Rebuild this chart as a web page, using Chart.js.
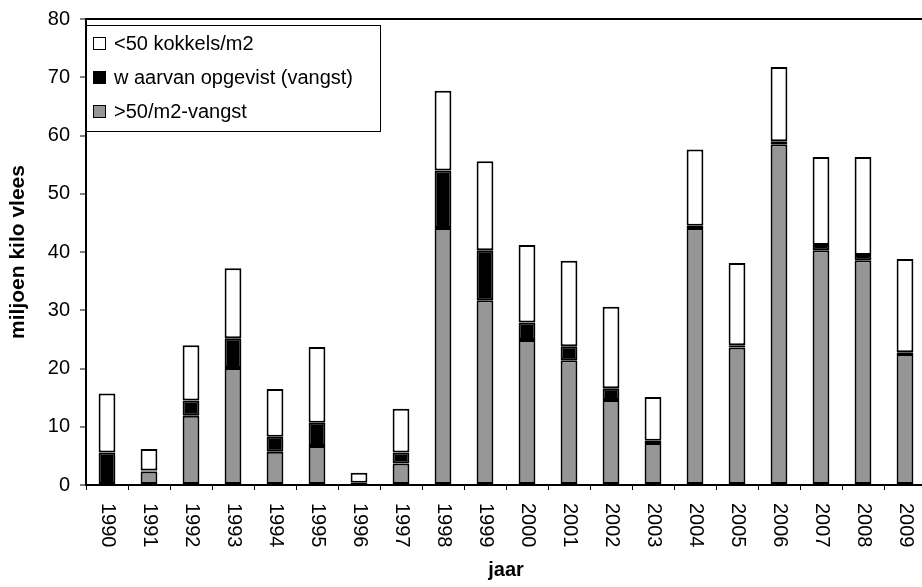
<!DOCTYPE html>
<html>
<head>
<meta charset="utf-8">
<script src="https://cdn.jsdelivr.net/npm/chart.js@4.4.1/dist/chart.umd.min.js"></script>
<style>
  html, body { margin: 0; padding: 0; background: #fff; overflow: hidden; }
  #wrap { width: 930px; height: 587px; }
</style>
</head>
<body>
<div id="wrap"><canvas id="kokkels" width="930" height="587"></canvas></div>
<script>
// jaren en bestanden (miljoen kilo vlees)
const years = ["1990", "1991", "1992", "1993", "1994", "1995", "1996", "1997", "1998", "1999",
  "2000", "2001", "2002", "2003", "2004", "2005", "2006", "2007", "2008", "2009"];
const boven50 = [0, 2.3, 11.9, 20.1, 5.7, 6.7, 0, 3.7, 44.1, 31.7,
  24.9, 21.4, 14.6, 7.2, 44.1, 23.6, 58.5, 40.3, 38.6, 22.5];
const opgevist = [5.6, 0.2, 2.6, 5.1, 2.6, 4.0, 0.4, 1.9, 9.9, 8.6,
  3.0, 2.4, 2.0, 0.4, 0.4, 0.4, 0.5, 0.9, 0.9, 0.3];
const onder50 = [10.1, 3.7, 9.5, 12.0, 8.2, 13.0, 1.7, 7.5, 13.7, 15.3,
  13.3, 14.7, 14.0, 7.5, 13.1, 14.1, 12.75, 15.1, 16.8, 16.0];
const yTicks = [0, 10, 20, 30, 40, 50, 60, 70, 80];

const FONT = 'Arial, "Liberation Sans", sans-serif';

// x labels read top-to-bottom, which Chart.js can't rotate that way
const yearLabels = {
  id: "yearLabels",
  afterDraw(chart) {
    const ctx = chart.ctx;
    const x = chart.scales.x;
    ctx.save();
    ctx.fillStyle = "#000";
    ctx.font = "20px " + FONT;
    ctx.textAlign = "left";
    ctx.textBaseline = "middle";
    chart.data.labels.forEach((lab, i) => {
      ctx.save();
      ctx.translate(x.getPixelForTick(i) + 1, x.top + 18);
      ctx.rotate(Math.PI / 2);
      ctx.fillText(lab, 0, 0);
      ctx.restore();
    });
    ctx.restore();
  }
};

// legend box inside the plot, top-left
const boxLegend = {
  id: "boxLegend",
  afterDraw(chart) {
    const ctx = chart.ctx;
    const left = chart.chartArea.left;
    const top = 25;
    ctx.save();
    ctx.fillStyle = "#fff";
    ctx.strokeStyle = "#000";
    ctx.lineWidth = 1;
    ctx.fillRect(left, top, 294, 106);
    ctx.strokeRect(left + 0.5, top + 0.5, 294, 106);
    ctx.font = "20px " + FONT;
    ctx.textBaseline = "middle";
    const items = chart.data.datasets.slice().reverse();
    items.forEach((ds, i) => {
      const cy = top + 18 + i * 34;
      ctx.fillStyle = ds.backgroundColor;
      ctx.fillRect(left + 7.5, cy - 5.5, 12, 12);
      ctx.strokeStyle = "#000";
      ctx.strokeRect(left + 7.5, cy - 5.5, 12, 12);
      ctx.fillStyle = "#000";
      ctx.fillText(ds.label, left + 28, cy + 1);
    });
    ctx.restore();
  }
};

new Chart(document.getElementById("kokkels"), {
  type: "bar",
  data: {
    labels: years,
    datasets: [
      { label: ">50/m2-vangst", data: boven50, backgroundColor: "#969696" },
      { label: "w aarvan opgevist (vangst)", data: opgevist, backgroundColor: "#000000" },
      { label: "<50 kokkels/m2", data: onder50, backgroundColor: "#ffffff" },
    ].map((d) => Object.assign(d, {
      borderColor: "#000",
      borderWidth: 2,
      borderSkipped: false,
      barPercentage: 0.4,
      categoryPercentage: 1,
    })),
  },
  options: {
    responsive: false,
    animation: false,
    layout: { padding: { top: 19, right: 4, bottom: 0, left: 0 } },
    plugins: { legend: { display: false }, tooltip: { enabled: false } },
    scales: {
      x: {
        stacked: true,
        afterFit(s) { s.height = 102; },
        ticks: { display: false },
        grid: { drawOnChartArea: false, offset: true, tickLength: 5, tickColor: "#000", lineWidth: 1 },
        border: { display: true, color: "#000", width: 2 },
        title: { display: true, text: "jaar", color: "#000", padding: { top: 0, bottom: 5 },
          font: { family: FONT, size: 20, weight: "bold" } },
      },
      y: {
        stacked: true,
        min: 0,
        max: 80,
        afterBuildTicks(s) { s.ticks = yTicks.map((v) => ({ value: v })); },
        afterFit(s) { s.width = 86; s.paddingTop = 0; s.paddingBottom = 0; },
        ticks: { color: "#000", padding: 10, font: { family: FONT, size: 20 } },
        grid: {
          color: (c) => (c.tick && c.tick.value === 80 ? "#000" : "rgba(0,0,0,0)"),
          lineWidth: 2,
          tickLength: 6,
          tickColor: "#000",
          tickWidth: 1,
        },
        border: { display: true, color: "#000", width: 2 },
        title: { display: true, text: "miljoen kilo vlees", color: "#000", padding: { top: 6, bottom: 0 },
          font: { family: FONT, size: 21, weight: "bold" } },
      },
    },
  },
  plugins: [yearLabels, boxLegend],
});
</script>
</body>
</html>
